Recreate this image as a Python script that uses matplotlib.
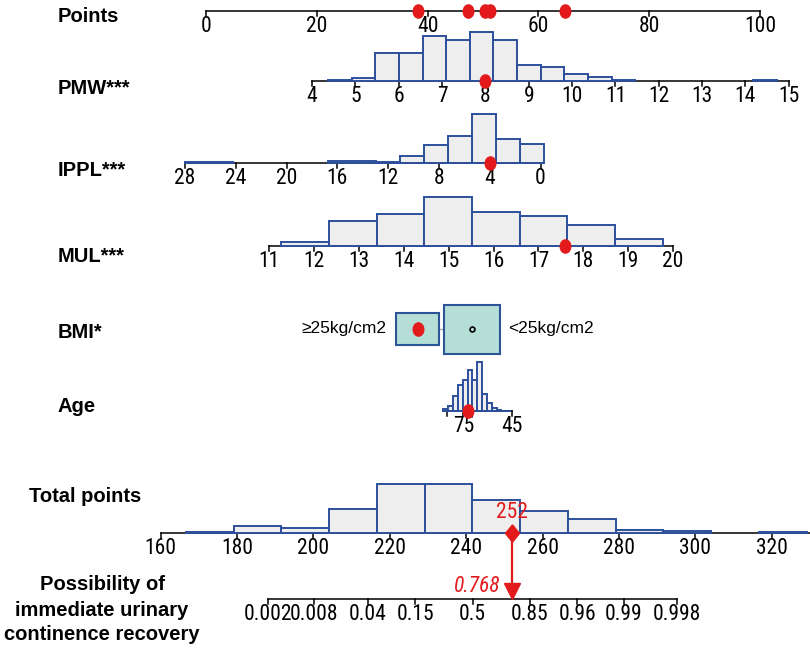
import numpy as np
import matplotlib
matplotlib.use("Agg")
import matplotlib.pyplot as plt
from matplotlib import font_manager
from matplotlib.path import Path
from matplotlib.patches import Rectangle

# ---------------- data ----------------
points_ticks = [0, 20, 40, 60, 80, 100]

# value -> points: two anchor values with their points
pmw_anchor = ([4, 15], [19.15, 105.2])
ippl_anchor = ([28, 0], [-3.8, 60.4])
mul_anchor = ([11, 20], [11.43, 84.3])
age_anchor = ([85, 45], [43.57, 55.2])
bmi_levels = ["≥25kg/cm2", "<25kg/cm2"]
bmi_points = [38.2, 48.0]
bmi_props = [0.33, 0.67]

pmw_ticks = list(range(4, 16))
pmw_edges = [4.37 + 0.545 * k for k in range(20)]
pmw_counts = [2, 5, 52, 52, 83, 75, 90, 75, 30, 26, 12, 8, 2, 0, 0, 0, 0, 0, 2]

ippl_ticks = [28, 24, 20, 16, 12, 8, 4, 0]
ippl_edges = [-0.26 + 1.885 * k for k in range(16)]
ippl_counts = [34, 44, 90, 50, 33, 12, 2, 4, 4, 0, 0, 0, 0, 2, 2]

mul_ticks = list(range(11, 21))
mul_edges = [11.27 + 1.0625 * k for k in range(9)]
mul_counts = [7, 46, 58, 90, 62, 55, 39, 12]

age_ticks = [85, 75, 45]
age_labels = ["", "75", "45"]
age_edges = [87.5 - 3 * k for k in range(15)]
age_counts = [4, 10, 30, 54, 64, 84, 64, 100, 34, 16, 6, 3, 1, 1]

# total points -> points scale
total_anchor = ([160, 320], [-8.195, 102.13])
total_ticks = [160, 180, 200, 220, 240, 260, 280, 300, 320]
total_range = [160, 330]
total_edges = [166.6 + 12.5 * k for k in range(14)]
total_counts = [1, 10, 7, 35, 72, 72, 49, 32, 20, 5, 3, 0, 1]

# probability: total = center + per_logit * logit(p)
prob_center = 241.68
prob_per_logit = 8.625
prob_ticks = [0.002, 0.008, 0.04, 0.15, 0.5, 0.85, 0.96, 0.99, 0.998]
prob_labels = ["0.002", "0.008", "0.04", "0.15", "0.5", "0.85", "0.96", "0.99", "0.998"]

# the patient
patient = {"PMW": 8.0, "IPPL": 4.0, "MUL": 17.6, "Age": 72.3, "BMI": 0}

# ---------------- style ----------------
names = {f.name for f in font_manager.fontManager.ttflist}
NARROW = next((n for n in ["Liberation Sans Narrow", "Arial Narrow", "Roboto Condensed",
                           "Archivo Narrow"] if n in names), "DejaVu Sans")
SANS = "Liberation Sans"
RED = "#e31a1c"
HIST_FACE = "#eeeeee"
HIST_EDGE = "#2d4f9b"
BOX_FACE = "#b4ded6"
BOX_EDGE = "#2c5597"
PX = 1 / 5.54  # one pixel in points units
HMAX = 49
TICK_FS = 15.5


def lin(anchor):
    (v0, v1), (p0, p1) = anchor
    return lambda v: p0 + (np.asarray(v, float) - v0) * (p1 - p0) / (v1 - v0)


def prob_to_total(p):
    p = np.asarray(p, float)
    return prob_center + prob_per_logit * np.log(p / (1 - p))


fig = plt.figure(figsize=(8.1, 6.49), dpi=100)
ax = fig.add_axes([0, 0, 1, 1])
ax.set_xlim(-206 * PX, (810 - 206) * PX)
ax.set_ylim(649, 0)
ax.axis("off")


def draw_axis(y, ticks, labels, to_x, span=None):
    xs = to_x(ticks)
    if span is None:
        lo, hi = xs.min(), xs.max()
    else:
        lo, hi = to_x(span).min(), to_x(span).max()
    ax.plot([lo, hi], [y, y], color="black", lw=1.1, zorder=2)
    for x, lab in zip(xs, labels):
        ax.plot([x, x], [y, y + 5], color="black", lw=1.1, zorder=2)
        ax.text(x, y + 5, lab, ha="center", va="top", fontsize=TICK_FS,
                family=NARROW)


def draw_hist(y, edges, counts, to_x):
    counts = np.asarray(counts, float)
    xe = to_x(edges)
    h = counts / counts.max() * HMAX
    keep = counts > 0
    left = np.minimum(xe[:-1], xe[1:])[keep]
    width = np.abs(np.diff(xe))[keep]
    ax.bar(left, -h[keep], width=width, bottom=y, align="edge",
           color=HIST_FACE, edgecolor=HIST_EDGE, lw=1.4, zorder=3)


ellipse = Path.unit_circle().transformed(matplotlib.transforms.Affine2D().scale(0.8, 1))
diamond = Path([(0, 1), (0.8, 0), (0, -1), (-0.8, 0), (0, 1)])


def dot(x, y):
    ax.plot([x], [y], marker=ellipse, ms=9.5, color=RED, mec=RED, zorder=6)


# rows
rows = [("Points", 16), ("PMW***", 88), ("IPPL***", 171), ("MUL***", 257),
        ("BMI*", 333), ("Age", 407)]
for lab, y in rows:
    ax.text(58 * PX - 206 * PX, y, lab, ha="left", va="center", fontsize=14.5,
            fontweight="bold", family=SANS)
ax.text(29 * PX - 206 * PX, 497, "Total points", ha="left", va="center",
        fontsize=14.5, fontweight="bold", family=SANS)
for line, y in zip(["Possibility of", "immediate urinary", "continence recovery"],
                   [585, 611, 635]):
    ax.text(102 * PX - 206 * PX, y, line, ha="center", va="center",
            fontsize=14.5, fontweight="bold", family=SANS)

ident = lambda v: np.asarray(v, float)
draw_axis(11, points_ticks, [str(t) for t in points_ticks], ident)

f_pmw = lin(pmw_anchor)
draw_hist(81, pmw_edges, pmw_counts, f_pmw)
draw_axis(81, pmw_ticks, [str(t) for t in pmw_ticks], f_pmw)

f_ippl = lin(ippl_anchor)
draw_hist(163, ippl_edges, ippl_counts, f_ippl)
draw_axis(163, ippl_ticks, [str(t) for t in ippl_ticks], f_ippl)

f_mul = lin(mul_anchor)
draw_hist(246, mul_edges, mul_counts, f_mul)
draw_axis(246, mul_ticks, [str(t) for t in mul_ticks], f_mul)

f_age = lin(age_anchor)
draw_hist(411, age_edges, age_counts, f_age)
draw_axis(411, age_ticks, age_labels, f_age)

# BMI boxes
bmi_y = 329
pmax = max(bmi_props)
ax.plot(bmi_points, [bmi_y, bmi_y], color="#aaaaaa", lw=1, zorder=2)
for lev, xp, p in zip(bmi_levels, bmi_points, bmi_props):
    w = 56 * (p / pmax) ** 0.38 * PX
    h = 49 * (p / pmax) ** 0.62
    ax.add_patch(Rectangle((xp - w / 2, bmi_y - h / 2), w, h, facecolor=BOX_FACE,
                           edgecolor=BOX_EDGE, lw=1.5, zorder=3))
ax.plot([bmi_points[1]], [bmi_y], marker="o", ms=3.5, mfc="none", mec="black",
        mew=1.2, zorder=5)
ax.text(bmi_points[0] - 31 * PX, bmi_y, bmi_levels[0], ha="right", va="center",
        fontsize=12.5, family=[SANS, "DejaVu Sans"])
ax.text(bmi_points[1] + 36 * PX, bmi_y, bmi_levels[1], ha="left", va="center",
        fontsize=12.5, family=[SANS, "DejaVu Sans"])

# total points and probability
f_tot = lin(total_anchor)
draw_hist(533, total_edges, total_counts, f_tot)
draw_axis(533, total_ticks, [str(t) for t in total_ticks], f_tot, span=total_range)
f_prob = lambda p: f_tot(prob_to_total(p))
draw_axis(599, prob_ticks, prob_labels, f_prob)

# patient scoring
pts = {
    "PMW": float(f_pmw(patient["PMW"])),
    "IPPL": float(f_ippl(patient["IPPL"])),
    "MUL": float(f_mul(patient["MUL"])),
    "Age": float(f_age(patient["Age"])),
    "BMI": bmi_points[patient["BMI"]],
}
dot(pts["PMW"], 81)
dot(pts["IPPL"], 163)
dot(pts["MUL"], 246)
dot(pts["Age"], 411)
dot(pts["BMI"], bmi_y)
for v in pts.values():
    dot(v, 11)

total = sum(pts.values())
prob = 1 / (1 + np.exp(-(total - prob_center) / prob_per_logit))
xt = float(f_tot(total))
ax.plot([xt, xt], [533, 583], color=RED, lw=1.6, zorder=5)
ax.plot([xt], [533], marker=diamond, ms=12.5, color=RED, zorder=6)
ax.plot([xt], [599 - 8.5], marker="v", ms=12.2, color=RED, zorder=6)
ax.text(xt, 513, f"{round(total)}", ha="center", va="center", fontsize=TICK_FS,
        color=RED, family=NARROW)
ax.text(xt - 12 * PX, 586, f"{prob:.3f}", ha="right", va="center", fontsize=TICK_FS,
        color=RED, style="italic", family=NARROW)

fig.savefig("out.png", dpi=100)
